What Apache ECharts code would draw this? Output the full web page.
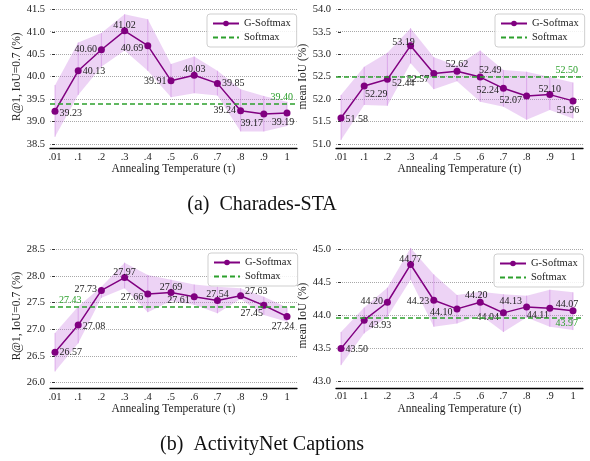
<!DOCTYPE html>
<html><head><meta charset="utf-8">
<script src="https://cdn.jsdelivr.net/npm/echarts@6/dist/echarts.min.js"></script>
<style>html,body{margin:0;padding:0;background:#fff}#c{width:590px;height:461px}</style>
</head><body><div id="c"></div>
<script>
// ---------- data ----------
const tickLabels = ['.01', '.1', '.2', '.3', '.4', '.5', '.6', '.7', '.8', '.9', '1'];

const charR1 = [39.23, 40.13, 40.60, 41.02, 40.69, 39.91, 40.03, 39.85, 39.24, 39.17, 39.19];
const charR1Upper = [39.81, 40.76, 40.97, 41.39, 41.28, 40.28, 40.45, 40.13, 39.72, 39.57, 39.44];
const charR1Lower = [38.66, 39.59, 40.22, 40.58, 40.13, 39.54, 39.63, 39.58, 38.78, 38.78, 38.90];
const charR1Softmax = 39.40;

const charMIoU = [51.58, 52.29, 52.44, 53.19, 52.57, 52.62, 52.49, 52.24, 52.07, 52.10, 51.96];
const charMIoUUpper = [52.09, 52.72, 53.03, 53.58, 52.93, 52.74, 53.08, 52.65, 52.61, 52.49, 52.37];
const charMIoULower = [51.09, 51.87, 51.85, 52.80, 52.22, 52.40, 51.94, 51.83, 51.54, 51.76, 51.57];
const charMIoUSoftmax = 52.50;

const anetR1 = [26.57, 27.08, 27.73, 27.97, 27.66, 27.69, 27.61, 27.54, 27.63, 27.45, 27.24];
const anetR1Upper = [26.93, 27.43, 27.80, 28.25, 28.02, 27.93, 27.84, 27.80, 27.77, 27.61, 27.41];
const anetR1Lower = [26.21, 26.74, 27.59, 27.77, 27.32, 27.53, 27.46, 27.30, 27.57, 27.27, 27.14];
const anetR1Softmax = 27.43;

const anetMIoU = [43.50, 43.93, 44.20, 44.77, 44.23, 44.10, 44.20, 44.04, 44.13, 44.11, 44.07];
const anetMIoUUpper = [43.75, 44.12, 44.42, 45.02, 44.62, 44.31, 44.36, 44.32, 44.30, 44.39, 44.35];
const anetMIoULower = [43.25, 43.73, 43.98, 44.54, 43.83, 43.88, 44.01, 43.75, 43.97, 43.83, 43.78];
const anetMIoUSoftmax = 43.97;

const xTitle = 'Annealing Temperature (τ)';
const yTitleR1 = 'R@1, IoU=0.7 (%)';
const yTitleMIoU = 'mean IoU (%)';
const captionA = '(a)  Charades-STA';
const captionB = '(b)  ActivityNet Captions';

// ---------- label placement (style only) ----------
const place1 = [['right',0,2],['right',0,1],['left',0,0],['top',0,4],['left',0,3],['left',0,1],['top',0,4],['right',0,0],['left',0,0],['bottom',-12,0],['bottom',-4,0]];
const place2 = [['right',0,1],['bottom',12,-1],['right',0,4],['top',-7,6],['left',0,6],['top',0,3],['top',10,3],['left',0,2],['left',0,4],['top',0,4],['bottom',-5,0]];
const place3 = [['right',0,0],['right',0,1],['left',0,-1],['top',0,4],['left',0,3],['top',0,4],['left',0,4],['top',0,3],['right',0,-4],['bottom',-12,-1],['bottom',-4,0]];
const place4 = [['right',0,1],['right',0,5],['left',0,-1],['top',0,4],['left',0,1],['left',0,3],['top',-4,3],['left',0,5],['left',0,-6],['bottom',-12,-2],['top',-6,3]];

const FONT = '"Liberation Serif", "Times New Roman", serif';
const PURPLE = '#800080';
const GREEN = '#2ca02c';
const BAND = 'rgba(200,120,225,0.33)';
const EBAR = 'rgba(190,100,215,0.40)';

const panels = [
  { vals: charR1, up: charR1Upper, lo: charR1Lower, sm: charR1Softmax, place: place1, yName: yTitleR1,
    grid: {left: 50, top: 9.3, width: 247, height: 134.7}, ymin: 38.5, ymax: 41.5, xOff: 4.3,
    legend: {left: 207, top: 14}, smLabel: {position: 'insideEndTop', distance: [4, 1]}, nameGap: 21 },
  { vals: charMIoU, up: charMIoUUpper, lo: charMIoULower, sm: charMIoUSoftmax, place: place2, yName: yTitleMIoU,
    grid: {left: 336, top: 9.3, width: 247, height: 134.7}, ymin: 51.0, ymax: 54.0, xOff: 4.3,
    legend: {left: 495, top: 14}, smLabel: {position: 'insideEndTop', distance: [5, 1]}, nameGap: 23 },
  { vals: anetR1, up: anetR1Upper, lo: anetR1Lower, sm: anetR1Softmax, place: place3, yName: yTitleR1,
    grid: {left: 50, top: 249.3, width: 247, height: 133.4}, ymin: 26.0, ymax: 28.5, xOff: 5.6,
    legend: {left: 208, top: 253}, smLabel: {position: 'insideStartTop', distance: [9, 1]}, nameGap: 21 },
  { vals: anetMIoU, up: anetMIoUUpper, lo: anetMIoULower, sm: anetMIoUSoftmax, place: place4, yName: yTitleMIoU,
    grid: {left: 336, top: 249.3, width: 247, height: 132.4}, ymin: 43.0, ymax: 45.0, xOff: 6.3,
    legend: {left: 494, top: 254}, smLabel: {position: 'insideEndBottom', distance: [5, 1]}, nameGap: 23 }
];

const idx = tickLabels.map((_, i) => i);
const grids = [], xAxes = [], yAxes = [], series = [], legends = [];

panels.forEach((p, k) => {
  grids.push(Object.assign({}, p.grid));
  xAxes.push({
    type: 'value', gridIndex: k, min: -0.215, max: 10.43, offset: p.xOff,
    axisLine: {show: true, lineStyle: {color: '#000', width: 1.3}},
    axisTick: {show: false}, splitLine: {show: false},
    axisLabel: {customValues: idx, formatter: v => tickLabels[Math.round(v)],
      fontFamily: FONT, fontSize: 10.5, color: '#222', margin: 3},
    name: xTitle, nameLocation: 'middle', nameGap: 13,
    nameTextStyle: {fontFamily: FONT, fontSize: 11.5, color: '#222'}
  });
  yAxes.push({
    type: 'value', gridIndex: k, min: p.ymin, max: p.ymax, interval: 0.5,
    axisLine: {show: false},
    axisTick: {show: true, length: 3, lineStyle: {color: '#333', width: 1}},
    splitLine: {show: true, lineStyle: {type: 'dotted', color: '#a8a8a8', width: 1}},
    axisLabel: {formatter: v => v.toFixed(1), fontFamily: FONT, fontSize: 10.5, color: '#222', margin: 5},
    name: p.yName, nameLocation: 'middle', nameGap: p.nameGap, nameRotate: 90,
    nameTextStyle: {fontFamily: FONT, fontSize: 11.5, color: '#222'}
  });
  const common = {xAxisIndex: k, yAxisIndex: k};
  const n = p.vals.length;
  // band (fill_between) + error bars, drawn through the axes' scales
  series.push(Object.assign({
    type: 'custom', name: '_band' + k, silent: true, z: 1, clip: false,
    data: p.up.map((u, i) => [i, p.lo[i], u]),
    encode: {x: 0, y: [1, 2]},
    renderItem: (params, api) => {
      const i = params.dataIndex;
      const a = api.coord([i, p.lo[i]]);
      const b = api.coord([i, p.up[i]]);
      const children = [];
      if (i < n - 1) {
        const c = api.coord([i + 1, p.lo[i + 1]]);
        const d = api.coord([i + 1, p.up[i + 1]]);
        children.push({type: 'polygon', shape: {points: [a, b, d, c]}, style: {fill: BAND}});
      }
      children.push({type: 'line', shape: {x1: a[0], y1: a[1], x2: b[0], y2: b[1]},
        style: {stroke: EBAR, lineWidth: 1}});
      return {type: 'group', children};
    }
  }, common));
  series.push(Object.assign({
    type: 'line', name: 'Softmax', data: [], symbol: 'none', z: 3,
    itemStyle: {color: GREEN},
    lineStyle: {color: GREEN, type: [5, 3], width: 1.5},
    markLine: {
      silent: true, symbol: ['none', 'none'], animation: false,
      data: [{yAxis: p.sm}],
      lineStyle: {color: GREEN, type: [5, 3], width: 1.5},
      label: Object.assign({show: true, formatter: () => p.sm.toFixed(2),
        color: GREEN, fontFamily: FONT, fontSize: 10}, p.smLabel)
    }
  }, common));
  series.push(Object.assign({
    type: 'line', name: 'G-Softmax', z: 4,
    data: p.vals.map((v, i) => ({value: [i, v],
      label: {position: p.place[i][0], offset: [p.place[i][1], p.place[i][2]]}})),
    symbol: 'circle', symbolSize: 7,
    itemStyle: {color: PURPLE},
    lineStyle: {color: PURPLE, width: 1.5},
    label: {show: true, formatter: q => q.value[1].toFixed(2), distance: 1,
      fontFamily: FONT, fontSize: 10, color: '#222'}
  }, common));
  legends.push({
    data: ['G-Softmax', {name: 'Softmax', itemStyle: {opacity: 0}}],
    orient: 'vertical', left: p.legend.left, top: p.legend.top,
    itemWidth: 26, itemHeight: 7, itemGap: 3, padding: [4, 6, 4, 5],
    borderColor: '#cfcfcf', borderWidth: 1, borderRadius: 3, backgroundColor: 'rgba(255,255,255,0.85)',
    textStyle: {fontFamily: FONT, fontSize: 10.5, color: '#222'}, selectedMode: false
  });
});

const chart = echarts.init(document.getElementById('c'), null, {renderer: 'canvas'});
chart.setOption({
  animation: false,
  backgroundColor: '#fff',
  grid: grids, xAxis: xAxes, yAxis: yAxes, series: series, legend: legends,
  graphic: [
    {type: 'text', x: 262, y: 205, style: {text: captionA, fontFamily: FONT, fontSize: 20,
      fill: '#111', align: 'center', verticalAlign: 'middle'}},
    {type: 'text', x: 262, y: 445, style: {text: captionB, fontFamily: FONT, fontSize: 20,
      fill: '#111', align: 'center', verticalAlign: 'middle'}}
  ]
});
</script></body></html>
